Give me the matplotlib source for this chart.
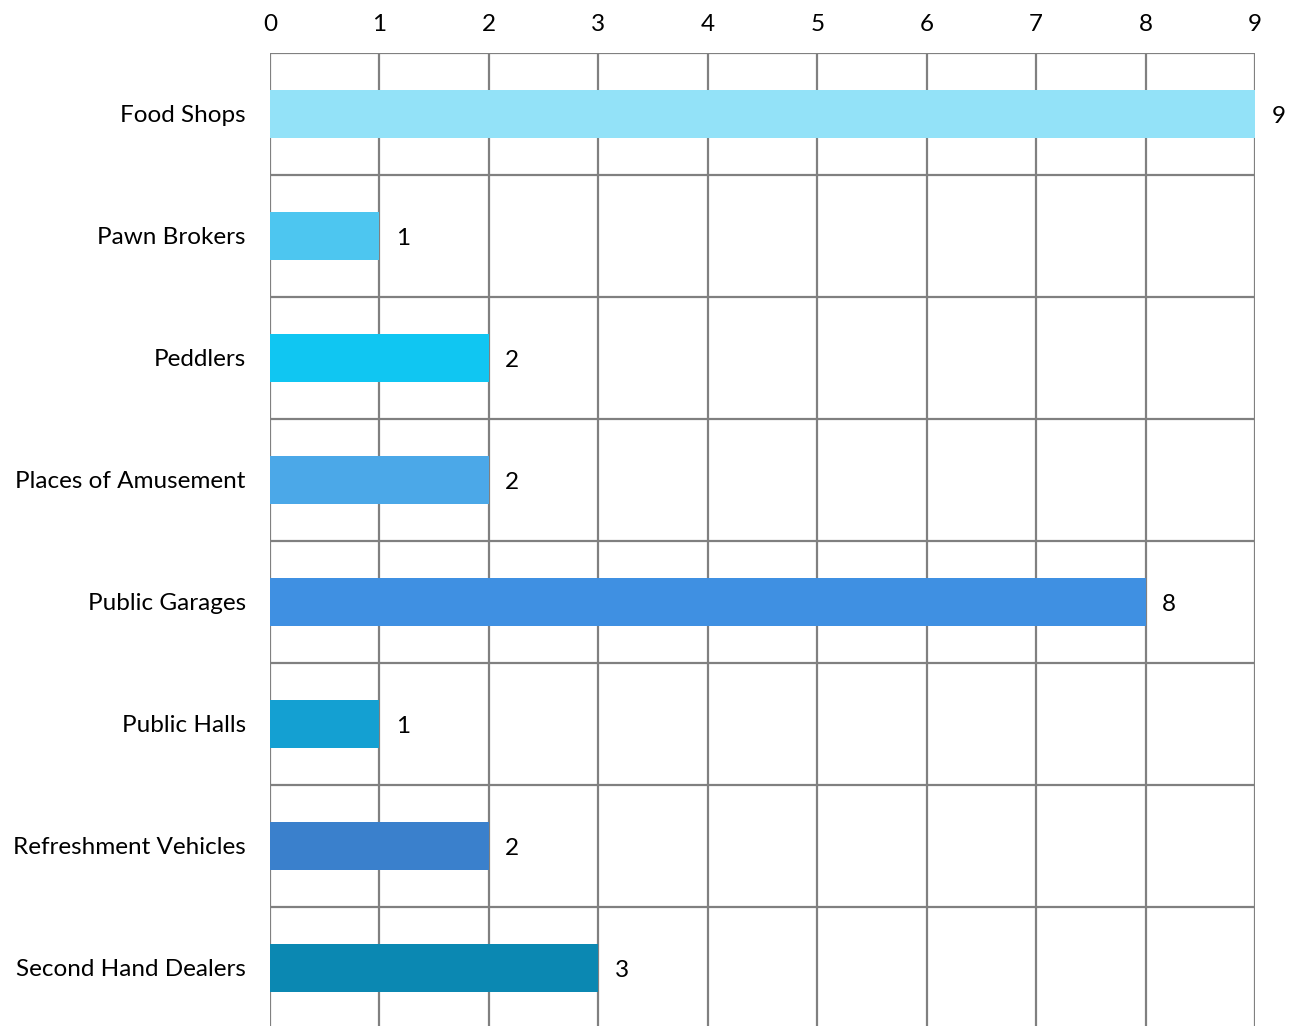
import numpy as np
import matplotlib
matplotlib.use("Agg")
import matplotlib.pyplot as plt

categories = ["Food Shops", "Pawn Brokers", "Peddlers", "Places of Amusement",
              "Public Garages", "Public Halls", "Refreshment Vehicles",
              "Second Hand Dealers"]
counts = [9, 1, 2, 2, 8, 1, 2, 3]
bar_colors = ["#93e2f8", "#4dc6f0", "#10c6f2", "#4ba8e8",
              "#3f90e2", "#14a0d2", "#3a80cc", "#0b88b2"]
x_ticks = list(range(0, 10))

plt.rcParams['font.family'] = ['Lato', 'DejaVu Sans']

fig = plt.figure(figsize=(12.91, 10.26), dpi=100)
# axes runs a little past the bottom of the figure, as in the original
ax = fig.add_axes([270 / 1291, -3 / 1026, 985 / 1291, 976 / 1026])

y = np.arange(len(categories))
ax.barh(y, counts, height=0.39, color=bar_colors, zorder=3)

for yi, v in zip(y, counts):
    ax.text(v + 0.15, yi + 0.02, str(v), va='center', ha='left', fontsize=17.5, color='black')

ax.set_xlim(0, 9)
ax.set_ylim(len(categories) - 0.5, -0.5)

ax.xaxis.tick_top()
ax.set_xticks(x_ticks)
ax.set_xticklabels([str(t) for t in x_ticks], fontsize=17.5)
ax.tick_params(axis='x', length=0, pad=13)

ax.set_yticks(y)
ax.set_yticklabels(categories, fontsize=17.5)
ax.tick_params(axis='y', length=0, pad=17.5)

# grid: vertical at integers, horizontal at category band edges
for xv in x_ticks:
    ax.axvline(xv, color='#808080', lw=1.6, zorder=2)
for yb in np.arange(-0.5, len(categories) + 0.5, 1):
    ax.axhline(yb, color='#808080', lw=1.6, zorder=2)

for s in ax.spines.values():
    s.set_visible(False)

fig.savefig("out.png", dpi=100)
